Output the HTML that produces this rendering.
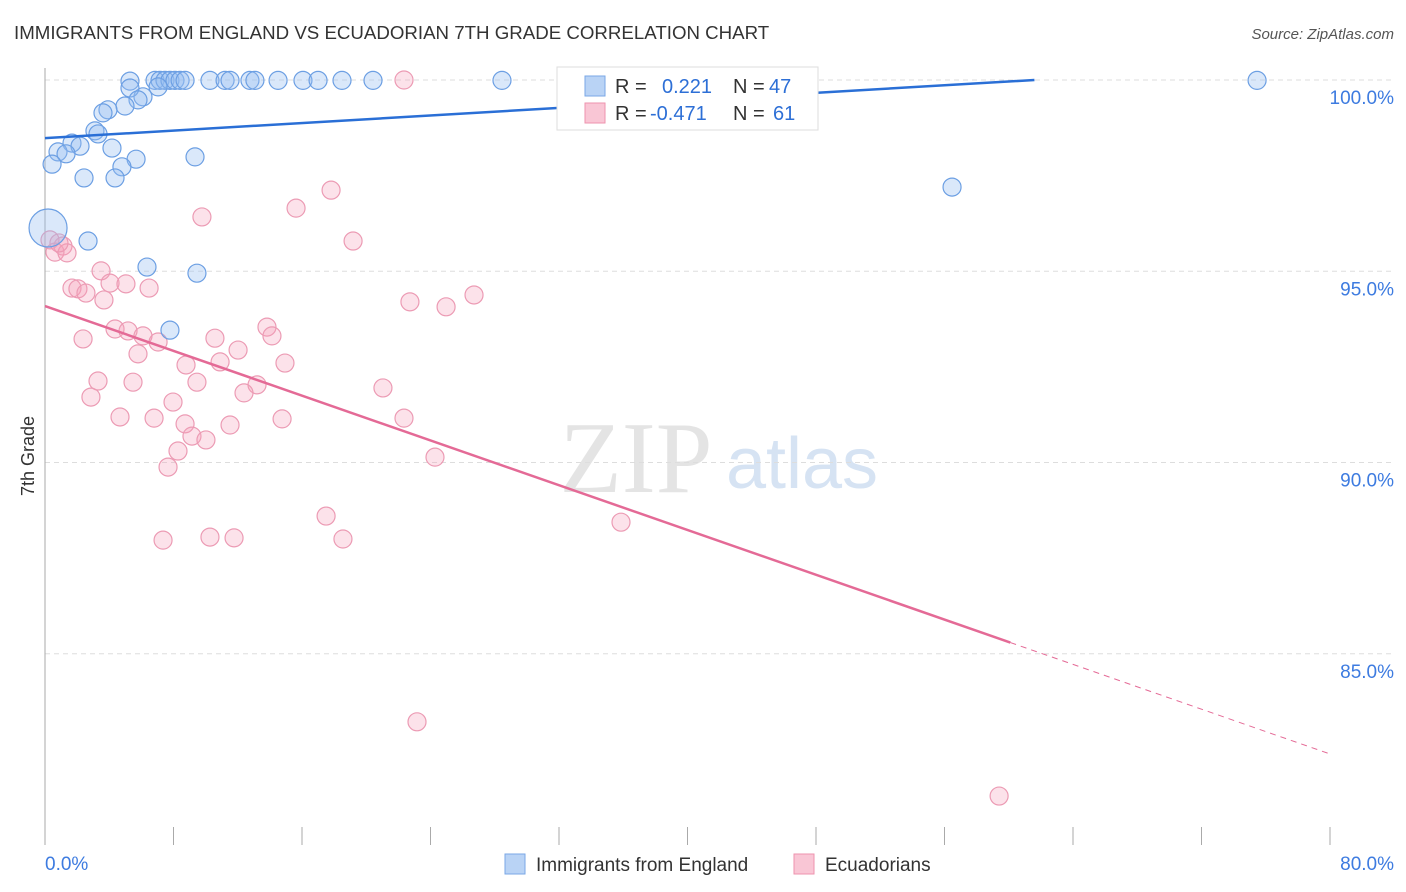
<!DOCTYPE html>
<html><head><meta charset="utf-8"><style>
body{margin:0;background:#fff;font-family:"Liberation Sans",sans-serif}
svg{display:block}
</style></head><body>
<svg id="c" width="1406" height="892" xmlns="http://www.w3.org/2000/svg">
<text x="14" y="39" font-size="18.7" fill="#333">IMMIGRANTS FROM ENGLAND VS ECUADORIAN 7TH GRADE CORRELATION CHART</text>
<text x="1394" y="39" font-size="15" fill="#555" font-style="italic" text-anchor="end">Source: ZipAtlas.com</text>
<text x="34" y="456" font-size="18" fill="#333" text-anchor="middle" transform="rotate(-90 34 456)">7th Grade</text>
<g><text x="636" y="492" font-size="102" fill="#e4e4e4" font-family="Liberation Serif,serif" text-anchor="middle">ZIP</text><text x="802" y="488" font-size="72" fill="#d6e3f3" text-anchor="middle">atlas</text></g>
<g id="grid"></g><g id="axes"></g><g id="marks"></g>
<g>
<rect x="557" y="67" width="261" height="63" fill="#fff" stroke="#ddd"/>
<rect x="585" y="76" width="20" height="20" fill="#b9d3f5" stroke="#7aa7e6"/>
<rect x="585" y="103" width="20" height="20" fill="#f9c6d5" stroke="#ee93ae"/>
<text x="615" y="93" font-size="20" fill="#333">R = </text><text x="662" y="93" font-size="20" fill="#2d6fd6">0.221</text>
<text x="733" y="93" font-size="20" fill="#333">N = </text><text x="769" y="93" font-size="20" fill="#2d6fd6">47</text>
<text x="615" y="120" font-size="20" fill="#333">R = </text><text x="650" y="120" font-size="20" fill="#2d6fd6">-0.471</text>
<text x="733" y="120" font-size="20" fill="#333">N = </text><text x="773" y="120" font-size="20" fill="#2d6fd6">61</text>
</g>
<g>
<rect x="505" y="854" width="20" height="20" fill="#b9d3f5" stroke="#7aa7e6"/>
<text x="536" y="871" font-size="19" fill="#333">Immigrants from England</text>
<rect x="794" y="854" width="20" height="20" fill="#f9c6d5" stroke="#ee93ae"/>
<text x="825" y="871" font-size="19" fill="#333">Ecuadorians</text>
</g>
</svg>
<script>
const blueX=[5.29,6.85,7.16,7.47,7.78,8.09,8.41,8.72,10.27,11.21,11.52,12.76,13.07,14.51,16.06,17.0,18.49,20.42,28.45,33.0,75.46,7.04,6.10,5.29,5.79,4.98,3.92,3.61,3.11,3.30,1.68,2.18,4.17,0.81,1.31,0.44,5.67,9.34,4.79,4.36,2.43,56.47,2.68,6.35,9.46,7.78,0.19];
const blueY=[99.97,99.99,99.99,99.99,99.99,99.99,99.99,99.99,99.99,99.99,99.99,99.99,99.99,99.99,99.99,99.99,99.99,99.99,99.99,99.99,99.99,99.82,99.56,99.79,99.48,99.32,99.22,99.14,98.67,98.59,98.35,98.27,98.22,98.12,98.07,97.80,97.93,97.99,97.73,97.44,97.44,97.20,95.79,95.11,94.95,93.46,96.13];
const pinkX=[22.35,17.81,15.63,9.77,19.18,0.31,1.12,0.62,1.37,0.87,3.49,1.68,2.05,2.55,4.05,5.04,6.48,3.67,22.72,24.97,26.71,4.36,5.17,6.10,7.04,2.37,10.58,13.82,14.13,5.79,12.02,10.90,8.78,14.94,3.30,5.48,9.46,13.20,12.39,21.04,2.86,7.97,4.67,6.79,11.52,14.76,22.35,8.72,9.15,10.02,8.28,7.66,24.28,17.50,35.86,7.35,10.27,11.77,18.55,23.16,59.40];
const pinkY=[100,97.12,96.65,96.42,95.79,95.82,95.66,95.50,95.48,95.74,95.01,94.56,94.54,94.43,94.69,94.67,94.56,94.25,94.20,94.07,94.38,93.49,93.44,93.31,93.15,93.23,93.25,93.54,93.31,92.84,92.94,92.63,92.55,92.60,92.13,92.10,92.10,92.03,91.82,91.95,91.71,91.58,91.19,91.16,90.98,91.14,91.16,91.01,90.69,90.59,90.30,89.88,90.14,88.60,88.44,87.97,88.05,88.03,88.00,83.22,81.28];
const yTicks=[100,95,90,85];
const yTickLabels=["100.0%","95.0%","90.0%","85.0%"];
const blueTrend=[98.48,100.00]; // at x=0 and x=61.6
const pinkTrend=[94.09,82.38]; // at x=0 and x=80
const NS="http://www.w3.org/2000/svg";
const X=v=>45+v/80*1285, Y=v=>80+(100-v)*38.25;
function mk(t,a,p){const e=document.createElementNS(NS,t);for(const k in a)e.setAttribute(k,a[k]);p.appendChild(e);return e;}
const grid=document.getElementById('grid'),axes=document.getElementById('axes'),marks=document.getElementById('marks');
yTicks.forEach((t,i)=>{
 const l=mk('line',{x1:45,x2:1394,y1:Y(t),y2:Y(t),stroke:'#ddd','stroke-dasharray':'5,4'},grid);
 
 
 const tx=mk('text',{x:1394,y:Y(t)+24,'font-size':19,fill:'#3d7be0','text-anchor':'end'},axes);tx.textContent=yTickLabels[i];
 
 
});
const ya=mk('line',{x1:45,x2:45,y1:68,y2:845,stroke:'#aaa'},axes);


for(let i=0;i<=10;i++){const tk=mk('line',{x1:X(i*8),x2:X(i*8),y1:827,y2:845,stroke:'#aaa'},axes);
 
 }
const xl=mk('text',{x:45,y:870,'font-size':19,fill:'#3d7be0'},axes);xl.textContent='0.0%';


const xr=mk('text',{x:1394,y:870,'font-size':19,fill:'#3d7be0','text-anchor':'end'},axes);xr.textContent='80.0%';


pinkX.forEach((v,i)=>{const c=mk('circle',{cx:X(v),cy:Y(pinkY[i]),r:9,fill:'rgba(244,160,186,0.3)',stroke:'#ec9bb4','stroke-width':1.2},marks);
 
 });
blueX.forEach((v,i)=>{const c=mk('circle',{cx:X(v),cy:Y(blueY[i]),r:i==46?19:9,fill:'rgba(150,190,240,0.35)',stroke:'#6c9fe3','stroke-width':1.2},marks);
 
 });
const bl=mk('line',{x1:X(0),y1:Y(blueTrend[0]),x2:X(61.6),y2:Y(blueTrend[1]),stroke:'#2a6fd6','stroke-width':2.5},marks);


const pAt=x=>pinkTrend[0]+(pinkTrend[1]-pinkTrend[0])*x/80;
const pl=mk('line',{x1:X(0),y1:Y(pAt(0)),x2:X(60.1),y2:Y(pAt(60.1)),stroke:'#e46a96','stroke-width':2.5},marks);


const pd=mk('line',{x1:X(60.1),y1:Y(pAt(60.1)),x2:X(80),y2:Y(pAt(80)),stroke:'#e46a96','stroke-width':1,'stroke-dasharray':'6,5'},marks);


</script>
</body></html>
